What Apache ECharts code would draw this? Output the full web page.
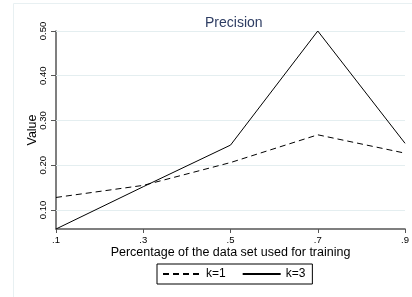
<!DOCTYPE html>
<html>
<head>
<meta charset="UTF-8">
<title>Precision</title>
<script src="https://cdn.jsdelivr.net/npm/echarts@6/dist/echarts.min.js"></script>
<style>
  html, body { margin: 0; padding: 0; background: #fff; }
  #main { width: 412px; height: 297px; }
</style>
</head>
<body>
<div id="main"></div>
<script type="text/javascript">
// share of the data set used for training
var xValues = [0.1, 0.3, 0.5, 0.7, 0.9];
var xTicks = ['.1', '.3', '.5', '.7', '.9'];
// precision values
var k1 = [0.128, 0.155, 0.206, 0.268, 0.227];
var k3 = [0.0575, 0.152, 0.245, 0.500, 0.249];
var yTicks = [0.10, 0.20, 0.30, 0.40, 0.50];

function pairs(xs, ys) {
    var out = [];
    for (var i = 0; i < xs.length; i++) out.push([xs[i], ys[i]]);
    return out;
}

var font = 'Liberation Sans, Arial, sans-serif';
var axisCol = '#555';

var myChart = echarts.init(document.getElementById('main'));
var option = {
    animation: false,
    backgroundColor: '#fff',
    textStyle: { fontFamily: font },
    title: {
        text: 'Precision',
        left: 200, top: 11,
        textStyle: { fontSize: 14, fontWeight: 'normal', color: '#2e3d63', fontFamily: font }
    },
    graphic: [{
        type: 'polyline', silent: true,
        shape: { points: [[13.5, 297], [13.5, 3.5], [412, 3.5]] },
        style: { stroke: '#e8f0f2', lineWidth: 1, fill: null }
    }],
    grid: { left: 56, right: 2, top: 31, bottom: 68 },
    legend: {
        top: 264, left: 157,
        data: ['k=1', 'k=3'],
        itemWidth: 38, itemHeight: 10, itemGap: 16,
        padding: [4, 7, 4, 5],
        borderColor: '#000', borderWidth: 1, borderRadius: 0,
        itemStyle: { opacity: 0 },
        textStyle: { fontSize: 12, color: '#000', fontFamily: font }
    },
    xAxis: {
        type: 'value', min: 0.1, max: 0.9,
        name: 'Percentage of the data set used for training',
        nameLocation: 'middle', nameGap: 17, nameMoveOverlap: false,
        nameTextStyle: { fontSize: 12.5, color: '#000' },
        axisLine: { lineStyle: { color: axisCol, width: 1.5 } },
        axisTick: { length: 4, customValues: xValues, lineStyle: { color: axisCol } },
        axisLabel: {
            customValues: xValues, fontSize: 9.5, color: '#000', margin: 6,
            formatter: function (v) { return xTicks[xValues.indexOf(Math.round(v * 10) / 10)]; }
        },
        splitLine: { show: false }
    },
    yAxis: {
        type: 'value', min: 0.0575, max: 0.5,
        name: 'Value', nameLocation: 'middle', nameGap: 17, nameMoveOverlap: false,
        nameTextStyle: { fontSize: 12.5, color: '#000' },
        axisLine: { show: true, lineStyle: { color: axisCol, width: 1.5 } },
        axisTick: { show: true, length: 5, customValues: yTicks, lineStyle: { color: axisCol } },
        axisLabel: {
            customValues: yTicks, rotate: 90, fontSize: 9.5, color: '#000', margin: 8,
            formatter: function (v) { return v.toFixed(2); }
        },
        splitLine: { show: false }
    },
    series: [{
        name: 'k=1', type: 'line', symbol: 'none',
        data: pairs(xValues, k1),
        lineStyle: { color: '#000', width: 1, type: [6, 4] },
        itemStyle: { color: '#000' },
        z: 3,
        markLine: {
            silent: true, symbol: 'none', label: { show: false },
            lineStyle: { color: '#e4eef0', width: 1, type: 'solid' },
            data: yTicks.map(function (t) { return { yAxis: t }; }),
            z: 1
        }
    }, {
        name: 'k=3', type: 'line', symbol: 'none',
        data: pairs(xValues, k3),
        lineStyle: { color: '#000', width: 1, type: 'solid' },
        itemStyle: { color: '#000' },
        z: 3
    }]
};
myChart.setOption(option);
</script>
</body>
</html>
